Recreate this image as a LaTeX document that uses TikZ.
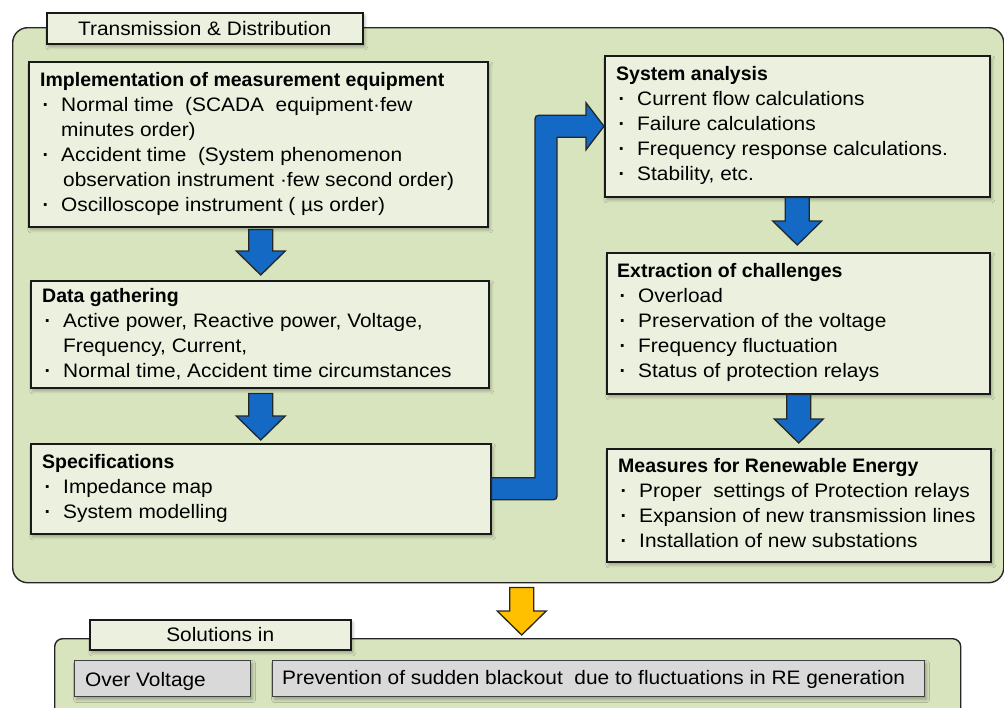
\documentclass[tikz,border=0pt]{standalone}
\usepackage{fontspec}
\setmainfont{Liberation Sans}[FakeStretch=1.07]
\newfontfamily\headfont{Liberation Sans}
\usetikzlibrary{calc,shadows.blur}

\definecolor{panelgreen}{HTML}{D7E4BD}
\definecolor{cardfill}{HTML}{EBF1DE}
\definecolor{flowblue}{HTML}{1469C4}
\definecolor{flowgold}{HTML}{FFC000}
\definecolor{chipgray}{HTML}{D9D9D9}

% bullet marker and continuation indent for list lines
\newcommand{\itm}{\makebox[21pt][l]{\hspace{2.5pt}{\headfont\bfseries ·}}}
\newcommand{\cont}{\hspace*{21pt}}
\newcommand{\hd}[1]{{\headfont\bfseries #1}}

% downward block arrow: #1 coordinate giving the top, #2 the tip, #3 fill colour
\newcommand{\blockdown}[3]{%
  \draw[blockarrow, fill=#3]
    ($(#2 |- #1)+(-12,0)$) -- ($(#2 |- #1)+(12,0)$) -- ($(#2)+(12,-24)$)
    -- ($(#2)+(24.5,-24)$) -- (#2) -- ($(#2)+(-24.5,-24)$) -- ($(#2)+(-12,-24)$) -- cycle;}

\tikzset{
  softshadow/.style={blur shadow={shadow xshift=2pt, shadow yshift=-3pt,
      shadow blur radius=3pt, shadow blur steps=6, shadow opacity=30}},
  panel/.style={draw=black!85, line width=1.4pt, fill=panelgreen, inner sep=0pt, anchor=north west},
  card/.style={draw=black!90, line width=1.5pt, fill=cardfill, inner sep=0pt,
      anchor=north west, softshadow},
  tab/.style={card, font=\fontsize{19.5}{23}\selectfont},
  chip/.style={draw=black!75, line width=1.2pt, fill=chipgray, inner sep=0pt,
      anchor=north west, softshadow},
  cardtext/.style={anchor=west, align=left, inner sep=0pt,
      font=\fontsize{19.5}{25}\selectfont,
      execute at begin node=\strut, execute at end node=\strut},
  chiptext/.style={anchor=base west, inner sep=0pt, font=\fontsize{19.5}{25}\selectfont},
  blockarrow/.style={draw=black!85, line width=1.3pt, line join=miter},
}

\begin{document}
\begin{tikzpicture}[x=1pt, y=-1pt]
\useasboundingbox (0,0) rectangle (1004,707);
\clip (0,0) rectangle (1004,707);

% ---- Transmission & Distribution panel ----
\node[panel, rounded corners=15pt, minimum width=991pt, minimum height=555pt] (td) at (12,27) {};
\node[tab, minimum width=316pt, minimum height=31pt] (tdTab) at (46,12) {Transmission \& Distribution};

% left column
\node[card, minimum width=459pt, minimum height=165pt] (meas) at (28,61) {};
\node[cardtext] (measT) at ($(meas.west)+(12,1.5)$) {%
  \hd{Implementation of measurement equipment}\\
  \itm Normal time\ \ (SCADA\ \ equipment·few\\
  \cont minutes order)\\
  \itm Accident time\ \ (System phenomenon\\
  \hspace*{23pt}observation instrument ·few second order)\\
  \itm Oscilloscope instrument ( µs order)};

\node[card, minimum width=458pt, minimum height=107pt] (data) at (30,280) {};
\node[cardtext] (dataT) at ($(data.west)+(12,2)$) {%
  \hd{Data gathering}\\
  \itm Active power, Reactive power, Voltage,\\
  \cont Frequency, Current,\\
  \itm Normal time, Accident time circumstances};

\node[card, minimum width=460pt, minimum height=90pt] (spec) at (30,443) {};
\node[cardtext] (specT) at ($(spec.west)+(12,1)$) {%
  \hd{Specifications}\\
  \itm Impedance map\\
  \itm System modelling};

% right column
\node[card, minimum width=385pt, minimum height=141pt] (sa) at (604,55) {};
\node[cardtext] (saT) at ($(sa.west)+(12,1)$) {%
  \hd{System analysis}\\
  \itm Current flow calculations\\
  \itm Failure calculations\\
  \itm Frequency response calculations.\\
  \itm Stability, etc.};

\node[card, minimum width=383pt, minimum height=141pt] (ex) at (606,252) {};
\node[cardtext] (exT) at ($(ex.west)+(11,1)$) {%
  \hd{Extraction of challenges}\\
  \itm Overload\\
  \itm Preservation of the voltage\\
  \itm Frequency fluctuation\\
  \itm Status of protection relays};

\node[card, minimum width=384pt, minimum height=113pt] (ms) at (606,448) {};
\node[cardtext] (msT) at ($(ms.west)+(12,1)$) {%
  \hd{Measures for Renewable Energy}\\
  \itm Proper\ \ settings of Protection relays\\
  \itm Expansion of new transmission lines\\
  \itm Installation of new substations};

% ---- flow arrows inside the panel ----
\coordinate (a1top) at ($(meas.south)+(0,2)$);
\coordinate (a1tip) at ($(data.north)+(1,-5)$);
\blockdown{a1top}{a1tip}{flowblue}

\coordinate (a2top) at ($(data.south)+(0,5)$);
\coordinate (a2tip) at ($(spec.north)+(0,-3)$);
\blockdown{a2top}{a2tip}{flowblue}

\coordinate (a3top) at (sa.south);
\coordinate (a3tip) at ($(ex.north)+(-1,-7)$);
\blockdown{a3top}{a3tip}{flowblue}

\coordinate (a4top) at (ex.south);
\coordinate (a4tip) at ($(ms.north)+(0,-5)$);
\blockdown{a4top}{a4tip}{flowblue}

% bent arrow from Specifications up to System analysis
\coordinate (riser) at (546,300);
\draw[blockarrow, fill=flowblue]
  ($(spec.east)+(0,-11)$) -- ($(riser |- spec.east)+(-11,-11)$)
  -- ($(riser |- sa.west)+(-11,-3)$)
  .. controls ($(riser |- sa.west)+(-11,-11)$) .. ($(riser |- sa.west)+(-3,-11)$)
  -- ($(sa.west)+(-18,-11)$) -- ($(sa.west)+(-18,-23.5)$) -- (sa.west)
  -- ($(sa.west)+(-18,23.5)$) -- ($(sa.west)+(-18,11)$)
  -- ($(riser |- sa.west)+(11,11)$)
  -- ($(riser |- spec.east)+(11,3)$)
  .. controls ($(riser |- spec.east)+(11,11)$) .. ($(riser |- spec.east)+(3,11)$)
  -- ($(spec.east)+(0,11)$) -- cycle;

% ---- Solutions panel ----
\node[panel, rounded corners=8pt, minimum width=906pt, minimum height=110pt] (sol) at (54,638) {};
\node[tab, minimum width=261pt, minimum height=30pt] (solTab) at (89,619) {Solutions in};

\node[chip, minimum width=176pt, minimum height=36pt] (ov) at (74,660) {};
\node[chiptext] (ovT) at ($(ov.west)+(11,8)$) {Over Voltage};

\node[chip, minimum width=652pt, minimum height=36pt] (pv) at (272,660) {};
\node[chiptext] (pvT) at ($(pv.west)+(10,6)$) {Prevention of sudden blackout\ \ due to fluctuations in RE generation};

% gold arrow from the panel down to the solutions
\coordinate (ytop) at ($(td.south)+(13.5,4)$);
\coordinate (ytip) at ($(ytop |- sol.north)+(0,-3)$);
\blockdown{ytop}{ytip}{flowgold}
\end{tikzpicture}
\end{document}
